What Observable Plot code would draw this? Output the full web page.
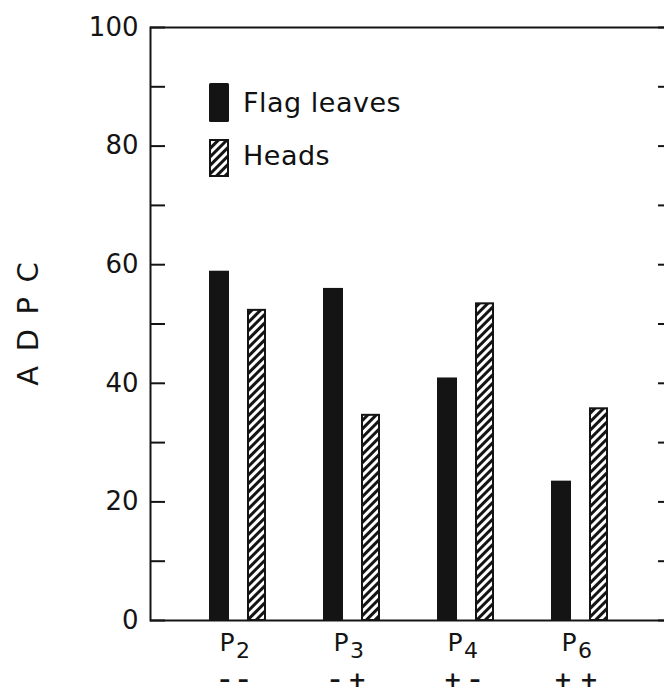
<!DOCTYPE html>
<html><head><meta charset="utf-8">
<script src="https://cdn.jsdelivr.net/npm/d3@7"></script>
<script src="https://cdn.jsdelivr.net/npm/@observablehq/plot@0.6"></script>
<style>
body{margin:0;background:#fff;}
#wrap{position:relative;width:664px;height:693px;overflow:hidden;}
#wrap svg{overflow:hidden;}
.leg{position:absolute;font-family:"DejaVu Sans",sans-serif;font-size:27px;line-height:27px;color:#111;white-space:nowrap;}
.sw{position:absolute;}
</style></head><body><div id="wrap"></div>
<script>
// data
const groups = ["P2", "P3", "P4", "P6"];
const groupBase = ["P", "P", "P", "P"];
const groupSub = ["2", "3", "4", "6"];
const signs = ["\u2013 \u2013", "\u2013 +", "+ \u2013", "+ +"];
const seriesNames = ["Flag leaves", "Heads"];
const flagLeaves = [58.9, 56.0, 40.9, 23.5];
const heads = [52.3, 34.6, 53.4, 35.7];
const yLabelTicks = [0, 20, 40, 60, 80, 100];
const yAllTicks = [0, 10, 20, 30, 40, 50, 60, 70, 80, 90, 100];
const yTitle = "A\u2002D\u2002P\u2002C";

const data = groups.map((g, i) => ({group: g, base: groupBase[i], sub: groupSub[i], sign: signs[i], flag: flagLeaves[i], heads: heads[i]}));

const ink = "#141414";
const plot = Plot.plot({
  width: 664, height: 693,
  marginTop: 27, marginBottom: 73, marginLeft: 150, marginRight: -8,
  style: {fontFamily: '"DejaVu Sans", sans-serif', fontSize: "26px", color: ink, background: "white"},
  x: {type: "band", domain: groups, range: [150, 667], padding: 0.4957, axis: null},
  y: {domain: [0, 100], label: null, axis: null},
  marks: [
    Plot.barY(data, {x: "group", y: "flag", fill: ink, insetRight: 37}),
    Plot.barY(data, {x: "group", y: "heads", fill: "url(#hatch)", stroke: ink, strokeWidth: 2, insetLeft: 39, insetRight: 1}),
    Plot.frame({stroke: ink, strokeWidth: 2}),
    Plot.axisY(yAllTicks, {anchor: "left", tickSize: -15, tickPadding: 27, strokeWidth: 2, stroke: ink, fill: ink, tickFormat: d => yLabelTicks.includes(d) ? String(d) : "", label: null, fontSize: 26}),
    Plot.axisY(yAllTicks, {anchor: "right", tickSize: -15, strokeWidth: 2, stroke: ink, tickFormat: () => "", label: null}),
    Plot.text([yTitle], {frameAnchor: "left", textAnchor: "middle", dx: -122, rotate: -90, fontSize: 29, fill: ink}),
    Plot.text(data, {x: "group", text: "base", frameAnchor: "bottom", dx: -11, dy: 30, fontSize: 25, fill: ink}),
    Plot.text(data, {x: "group", text: "sub", frameAnchor: "bottom", dx: 5, dy: 37, fontSize: 22, fill: ink}),
    Plot.text(data, {x: "group", text: "sign", frameAnchor: "bottom", dx: -4, dy: 66, fontSize: 22, fontWeight: "bold", fill: ink})
  ]
});

const wrap = document.getElementById("wrap");
wrap.appendChild(plot);
const svgEl = plot.tagName.toLowerCase() === "svg" ? plot : plot.querySelector("svg");
const defs = d3.select(svgEl).insert("defs", ":first-child");
const pat = defs.append("pattern").attr("id", "hatch").attr("patternUnits", "userSpaceOnUse")
  .attr("width", 6).attr("height", 6).attr("patternTransform", "rotate(45)");
pat.append("rect").attr("width", 6).attr("height", 6).attr("fill", "white");
pat.append("line").attr("x1", 1.5).attr("y1", -1).attr("x2", 1.5).attr("y2", 7).attr("stroke", ink).attr("stroke-width", 3);

// legend (inside the plot area, top left)
const legSvg = d3.select(wrap).append("svg").attr("class", "sw")
  .style("left", "0px").style("top", "0px").attr("width", 664).attr("height", 200)
  .style("pointer-events", "none");
const ldefs = legSvg.append("defs");
const p2 = ldefs.append("pattern").attr("id", "hatch2").attr("patternUnits", "userSpaceOnUse")
  .attr("width", 6).attr("height", 6).attr("patternTransform", "rotate(45)");
p2.append("rect").attr("width", 6).attr("height", 6).attr("fill", "white");
p2.append("line").attr("x1", 1.5).attr("y1", -1).attr("x2", 1.5).attr("y2", 7).attr("stroke", ink).attr("stroke-width", 3);
legSvg.append("rect").attr("x", 209).attr("y", 83).attr("width", 20).attr("height", 39).attr("rx", 1.5).attr("fill", ink);
legSvg.append("rect").attr("x", 210).attr("y", 140).attr("width", 18).attr("height", 36).attr("fill", "url(#hatch2)").attr("stroke", ink).attr("stroke-width", 2);
seriesNames.forEach((name, i) => {
  const d = document.createElement("div");
  d.className = "leg";
  d.textContent = name;
  d.style.left = "243px";
  d.style.top = (i === 0 ? 89 : 142) + "px";
  d.style.letterSpacing = "0.5px";
  wrap.appendChild(d);
});
</script>
</body></html>
